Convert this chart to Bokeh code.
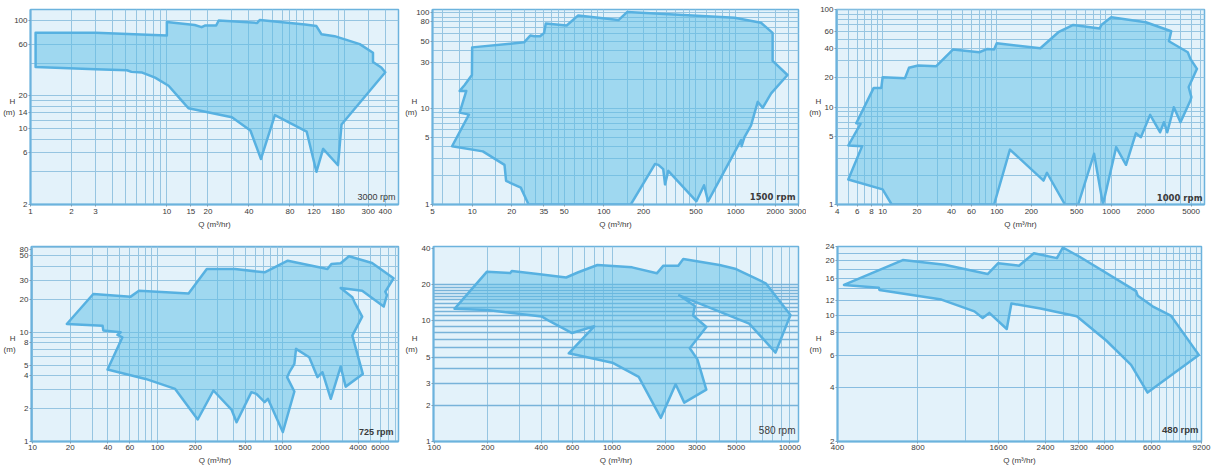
from bokeh.plotting import figure
from bokeh.layouts import column, row
from bokeh.models import FixedTicker, Label, Range1d
from bokeh.embed import file_html
from bokeh.resources import INLINE

# ---------------- data (Q in m3/hr, H in m) ----------------
# 3000 rpm
q_3000 = [1.09, 3.0, 10, 10, 16, 18, 19, 23, 24, 46, 48, 103, 125, 136, 170, 260, 325, 325, 374, 400,
          191, 180, 140, 125, 106, 62, 49, 41, 30, 14.4, 12.9, 10.3, 8.2, 6.6, 5.5, 5.1, 3.0, 1.09]
h_3000 = [76.5, 76.5, 72, 96, 90, 86, 89, 89, 99, 94, 100, 91, 88, 74, 71, 60, 50, 41, 36.5, 33,
          10.9, 4.6, 6.5, 4.0, 9.4, 13.3, 5.25, 9.6, 12.7, 15.4, 18, 24.8, 29.5, 32.8, 33.3, 34.5, 35.2, 37]

# 1500 rpm
q_1500 = [10.0, 24.8, 27.6, 29.6, 32.8, 35.2, 36.2, 52.2, 63.8, 129, 150, 982, 1558, 1908, 1908, 2476,
          1860, 1604, 1471, 1309, 1167, 1110, 1100, 617, 576, 504, 308, 291, 282, 259, 244, 160,
          26.8, 23.4, 18.1, 17.6, 12.05, 7.04, 9.45, 8.04, 9.03, 8.04, 8.77, 9.96]
h_1500 = [43.5, 49.1, 57.7, 56.8, 56.8, 61.6, 77.2, 73.6, 93.7, 83.7, 101.6, 88.6, 78.5, 61.6, 31.5, 22.4,
          14.4, 10.2, 11.75, 6.68, 5.03, 4.05, 4.7, 1.08, 1.585, 1.08, 2.24, 1.62, 2.34, 2.59, 2.64, 1.0,
          1.0, 1.5, 1.76, 2.59, 3.58, 4.05, 8.65, 9.08, 15.3, 15.3, 17.6, 22.4]

# 1000 rpm
q_1000 = [5.01, 6.62, 5.01, 6.41, 5.88, 8.36, 9.74, 10, 15.7, 17.0, 20.5, 29.5, 41.2, 70.1, 82.7, 94.5,
          99.7, 240, 345, 466, 793, 819, 1000, 2010, 3350, 3200, 4675, 4930, 5630, 4766, 5027, 4930,
          4037, 3532, 3093, 2895, 2675, 2190, 1818, 1645, 1348, 1105, 847, 708, 514, 394, 274, 256,
          130, 94.5, 12.0, 10]
h_1000 = [1.81, 3.98, 4.04, 6.74, 6.85, 15.8, 15.8, 20.3, 19.9, 25.4, 26.8, 26.4, 39.1, 36.7, 39.7, 39.1,
          45.5, 40.4, 59.0, 70.1, 64.3, 70.1, 84.1, 74.7, 60.4, 47.6, 36.7, 31.4, 24.8, 16.1, 12.7, 11.7,
          7.01, 10.0, 5.53, 7.01, 5.53, 8.34, 4.92, 5.41, 2.56, 3.88, 1.0, 3.32, 1.0, 1.0, 2.12, 1.76,
          3.67, 1.0, 1.0, 1.43]

# 725 rpm
q_725 = [18.8, 30.6, 60.9, 70.9, 176.6, 247, 414, 716, 1096, 2274, 2445, 2899, 3376, 5166, 7670, 6590,
         6794, 6397, 4306, 2899, 3592, 3743, 4306, 3592, 4357, 3177, 2899, 2416, 2074, 1893, 1626, 1275,
         1237, 1129, 1082, 1237, 1000, 760, 716, 615, 561, 427, 389, 279, 209, 138, 80.1, 39.8, 52.3,
         47.7, 50.7, 36.8, 36.3]
h_725 = [11.9, 22.4, 21.2, 24.0, 22.7, 37.9, 37.9, 35.4, 45.2, 37.9, 42.2, 42.8, 49.6, 43.1, 31.2, 23.5,
         21.9, 17.2, 24.0, 25.4, 20.9, 18.8, 13.9, 9.32, 4.16, 3.18, 4.85, 2.46, 4.31, 3.88, 5.91, 7.04,
         5.13, 4.31, 3.88, 2.87, 1.22, 2.46, 2.29, 2.73, 2.83, 1.50, 1.96, 2.93, 1.59, 3.03, 3.74, 4.56,
         9.0, 9.46, 10.0, 10.4, 11.5]

# 580 rpm
q_580 = [130, 198, 267, 273, 392, 552, 641, 828, 1297, 1787, 1946, 2359, 2517, 4027, 4984, 7325, 10090,
         8318, 5913, 2390, 2922, 2860, 3393, 2740, 3023, 3393, 2549, 2280, 1882, 1413, 1004, 571, 794,
         596, 446, 401, 198]
h_580 = [12.6, 25.6, 24.9, 25.9, 24.4, 22.9, 25.2, 29.1, 27.8, 24.8, 28.7, 28.7, 32.6, 29.1, 26.9, 20.5,
         11.2, 5.46, 9.5, 16.3, 13.3, 11.1, 8.91, 5.94, 4.80, 2.69, 2.10, 2.98, 1.57, 3.44, 4.50, 5.39,
         9.02, 7.93, 9.94, 10.9, 12.3]

# 480 rpm
q_480 = [423, 702, 1007, 1458, 1597, 1910, 2171, 2648, 2787, 3231, 5237, 5315, 6036, 7061, 8990, 5781,
         5016, 4057, 3142, 2297, 1789, 1719, 1479, 1397, 1301, 979, 574, 571]
h_480 = [14.7, 20.2, 19.0, 16.9, 19.4, 18.8, 22.0, 20.7, 23.7, 21.0, 13.6, 12.8, 11.2, 9.95, 6.03, 3.73,
         5.31, 7.22, 9.86, 10.9, 11.6, 8.39, 10.3, 9.66, 10.5, 12.2, 13.8, 14.2]

# ---------------- tick labels ----------------
xt_3000 = [1, 2, 3, 10, 15, 20, 40, 80, 120, 180, 300, 400]
yt_3000 = [2, 6, 10, 14, 20, 60, 100]
xt_1500 = [5, 10, 20, 35, 50, 100, 200, 500, 1000, 2000, 3000]
yt_1500 = [1, 5, 10, 30, 50, 80, 100]
xt_1000 = [4, 6, 8, 10, 20, 40, 60, 100, 200, 500, 1000, 2000, 5000]
yt_1000 = [1, 5, 10, 20, 40, 60, 100]
xt_725 = [10, 20, 40, 60, 100, 200, 500, 1000, 2000, 4000, 6000]
yt_725 = [1, 2, 4, 5, 8, 10, 20, 30, 50, 57]
yl_725 = ["1", "2", "4", "5", "8", "10", "20", "30", "50", "80"]
xt_580 = [100, 200, 400, 600, 1000, 2000, 3000, 5000, 10000]
yt_580 = [1, 2, 3, 5, 10, 20, 40]
xt_480 = [400, 800, 1600, 2400, 3200, 4000, 6000, 9200]
yt_480 = [2, 4, 6, 8, 10, 12, 16, 20, 24]

# ---------------- grid lines ----------------
def log_grid(lo, hi):
    vals = []
    for e in range(0, 5):
        for m in range(1, 10):
            v = m * 10 ** e
            if lo <= v <= hi:
                vals.append(v)
    return vals

xg_3000 = log_grid(1, 500) + [15, 120, 180]
yg_3000 = [4, 6, 8, 10, 12, 14, 16, 18, 20, 40, 60, 100]
xg_1500 = [6, 8, 10, 15, 20, 25, 30, 35, 40, 45, 50, 60, 70, 80, 90, 100, 150, 200, 250, 300, 350, 400,
           450, 500, 600, 700, 800, 900, 1000, 1500, 2000, 2500]
yg_1500 = log_grid(1, 108)
xg_1000 = log_grid(4, 6500)
yg_1000 = log_grid(1, 100)
xg_725 = log_grid(10, 8400)
yg_725 = log_grid(1, 61)
xg_580 = [100 * k for k in range(2, 10)] + [1000 * k for k in range(1, 11)]
yg_580 = list(range(2, 21))
xg_480 = [400 * k for k in range(1, 23)]
yg_480 = list(range(2, 25, 2))

# ---------------- styling ----------------
FONT = "Liberation Sans"
BG = "#e3f2fa"
GRID = "#96c5e1"
FRAME = "#6cb3dd"
FILL = "#5bbde6"
EDGE = "#57b1e1"
TXT = "#3a3a3a"


def make_panel(q, h, xr, yr, xt, yt, xg, yg, rpm, rpm_font, rpm_size, rpm_style,
               width, height, bl, br, bt, bb, ylabels=None, rpm_dx=-3, rpm_dy=9,
               ystand=-4, xlab_stand=3, xtick_stand=2, ygrid_color=GRID, ygrid_width=1):
    p = figure(width=width, height=height, x_axis_type="log", y_axis_type="log",
               x_range=Range1d(*xr), y_range=Range1d(*yr),
               output_backend="svg", toolbar_location=None,
               min_border_left=bl, min_border_right=br, min_border_top=bt, min_border_bottom=bb)
    p.background_fill_color = BG
    p.border_fill_color = "white"
    p.outline_line_color = FRAME
    p.outline_line_width = 1.5
    p.xgrid.ticker = FixedTicker(ticks=xg, minor_ticks=[])
    p.ygrid.ticker = FixedTicker(ticks=yg, minor_ticks=[])
    p.xgrid.grid_line_color = GRID
    p.xgrid.grid_line_width = 1
    p.ygrid.grid_line_color = ygrid_color
    p.ygrid.grid_line_width = ygrid_width
    xlabels = [str(v) for v in xt]
    if ylabels is None:
        ylabels = [str(v) for v in yt]
    for ax, ticks, labs in ((p.xaxis[0], xt, xlabels), (p.yaxis[0], yt, ylabels)):
        ax.ticker = FixedTicker(ticks=ticks, minor_ticks=[])
        ax.major_label_overrides = {t: l for t, l in zip(ticks, labs)}
        ax.axis_line_color = FRAME
        ax.axis_line_width = 2
        ax.major_tick_line_color = "#7a9fb8"
        ax.major_tick_out = 2
        ax.major_tick_in = 0
        ax.minor_tick_out = 0
        ax.minor_tick_in = 0
        ax.major_label_standoff = 1
        ax.major_label_text_font = FONT
        ax.major_label_text_font_size = "8px"
        ax.major_label_text_color = TXT
        ax.axis_label_text_font = FONT
        ax.axis_label_text_font_size = "8px"
        ax.axis_label_text_font_style = "normal"
        ax.axis_label_text_color = TXT
    p.xaxis[0].axis_label = "Q (m³/hr)"
    p.xaxis[0].axis_label_standoff = xlab_stand
    p.xaxis[0].major_label_standoff = xtick_stand
    p.yaxis[0].axis_label = "H\n(m)"
    p.yaxis[0].axis_label_orientation = "horizontal"
    p.yaxis[0].axis_label_standoff = ystand
    p.patch(q, h, fill_color=FILL, fill_alpha=0.5, line_color=EDGE, line_width=2.5,
            line_join="round")
    p.add_layout(Label(x=xr[1], y=rpm_dy, x_offset=rpm_dx, text=rpm, text_align="right",
                       x_units="data", y_units="screen", text_font=rpm_font,
                       text_font_size=rpm_size, text_font_style=rpm_style, text_color=TXT,
                       text_baseline="middle"))
    return p


# row 1: frames at x 28-398, 428-798, 832-1204 ; y 9-204
f1 = make_panel(q_3000, h_3000, (1, 500), (2, 125), xt_3000, yt_3000, xg_3000, yg_3000,
                "3000 rpm", FONT, "9px", "normal", 402, 236, 28, 4, 9, 32, rpm_dy=8)
f2 = make_panel(q_1500, h_1500, (5, 3000), (1, 108), xt_1500, yt_1500, xg_1500, yg_1500,
                "1500 rpm", "DejaVu Sans", "8.5px", "bold", 404, 236, 26, 8, 9, 32, rpm_dy=8)
f3 = make_panel(q_1000, h_1000, (3.95, 6550), (1, 101), xt_1000, yt_1000, xg_1000, yg_1000,
                "1000 rpm", "DejaVu Sans", "8.5px", "bold", 407, 236, 26, 9, 9, 32, rpm_dx=-2,
                rpm_dy=7)
# row 2: frames at x 28-398, 429-798, 833-1201 ; y 246-441
f4 = make_panel(q_725, h_725, (9.82, 8400), (1, 61), xt_725, yt_725, xg_725, yg_725,
                "725 rpm", FONT, "9px", "bold", 402, 234, 28, 4, 10, 29,
                ylabels=yl_725, rpm_dx=-5, rpm_dy=10, ystand=1, xtick_stand=1)
f5 = make_panel(q_580, h_580, (99, 11200), (1, 41.4), xt_580, yt_580, xg_580, yg_580,
                "580 rpm", FONT, "10px", "normal", 404, 234, 27, 8, 10, 29, rpm_dy=11, ystand=1,
                xtick_stand=1, ygrid_color="#78b3d9", ygrid_width=1.3)
f6 = make_panel(q_480, h_480, (400, 9200), (2, 24), xt_480, yt_480, xg_480, yg_480,
                "480 rpm", FONT, "9.5px", "bold", 407, 234, 27, 12, 10, 29, rpm_dy=12, ystand=1,
                xtick_stand=1, ygrid_color="#88bde0")

layout = column(row(f1, f2, f3), row(f4, f5, f6))
open("out.html", "w").write(file_html(layout, INLINE, "pump curves"))
